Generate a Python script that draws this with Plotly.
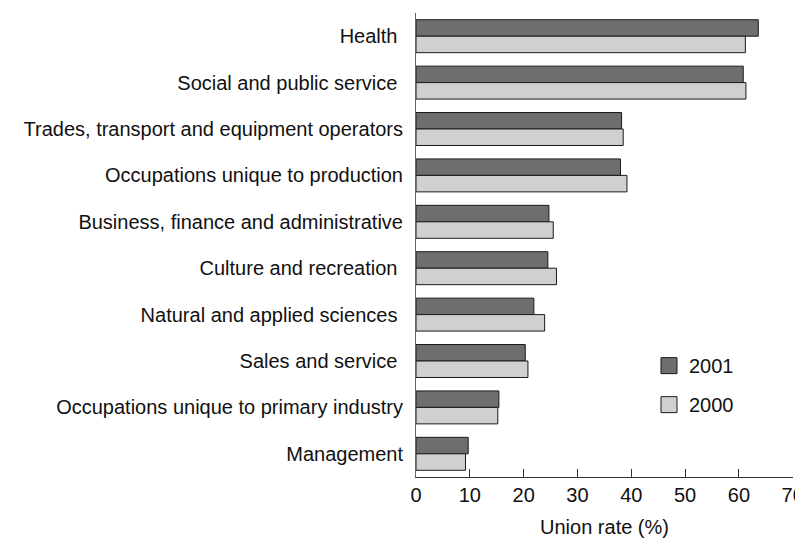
import plotly.graph_objects as go

categories = [
    "Health\u00a0",
    "Social and public service\u00a0",
    "Trades, transport and equipment operators",
    "Occupations unique to production",
    "Business, finance and administrative",
    "Culture and recreation\u00a0",
    "Natural and applied sciences\u00a0",
    "Sales and service\u00a0",
    "Occupations unique to primary industry",
    "Management",
]
rate_2001 = [63.6, 60.8, 38.2, 38.0, 24.7, 24.5, 21.9, 20.3, 15.4, 9.7]
rate_2000 = [61.2, 61.3, 38.5, 39.2, 25.5, 26.1, 23.9, 20.8, 15.2, 9.2]
x_ticks = [0, 10, 20, 30, 40, 50, 60, 70]

FONT = "Liberation Sans, Arial, sans-serif"
DARK = "#6e6e6e"
LIGHT = "#d0d0d0"
EDGE = "#1a1a1a"

fig = go.Figure()
fig.add_trace(go.Bar(
    y=categories, x=rate_2001, name="2001", orientation="h",
    marker=dict(color=DARK, line=dict(color=EDGE, width=1)),
    legendgroup="a", showlegend=False,
))
fig.add_trace(go.Bar(
    y=categories, x=rate_2000, name="2000", orientation="h",
    marker=dict(color=LIGHT, line=dict(color=EDGE, width=1)),
    legendgroup="b", showlegend=False,
))
# legend entries with larger square swatches
fig.add_trace(go.Scatter(
    x=[None], y=[None], mode="markers", name="2001", legendgroup="a",
    marker=dict(symbol="square", size=16, color=DARK, line=dict(color=EDGE, width=1)),
))
fig.add_trace(go.Scatter(
    x=[None], y=[None], mode="markers", name="2000", legendgroup="b",
    marker=dict(symbol="square", size=16, color=LIGHT, line=dict(color=EDGE, width=1)),
))

# body margin of the page is 8px, so the figure is offset by 8px
fig.update_layout(
    width=795, height=536,
    margin=dict(l=408, r=10, t=5, b=67),
    paper_bgcolor="white", plot_bgcolor="white",
    barmode="group", bargap=0.29, bargroupgap=0,
    font=dict(family=FONT, size=20, color="#111111"),
    showlegend=True,
    legend=dict(
        x=0.618, y=0.282, xanchor="left", yanchor="top",
        traceorder="grouped", tracegroupgap=10,
        font=dict(size=20), bgcolor="rgba(0,0,0,0)",
    ),
    xaxis=dict(
        range=[0, 70.05], tickvals=x_ticks, ticks="inside", ticklen=8,
        tickcolor="#333333", showline=True, linecolor="#333333",
        showgrid=False, zeroline=False, automargin=False,
        ticklabeloverflow="allow",
        title=dict(text="Union rate (%)", font=dict(size=20), standoff=14),
        tickfont=dict(size=20),
    ),
    yaxis=dict(
        autorange="reversed", showline=True, linecolor="#666666",
        ticks="", showgrid=False, tickfont=dict(size=20), ticklabelstandoff=8,
        automargin=False,
    ),
)

fig.write_html("out.html")
